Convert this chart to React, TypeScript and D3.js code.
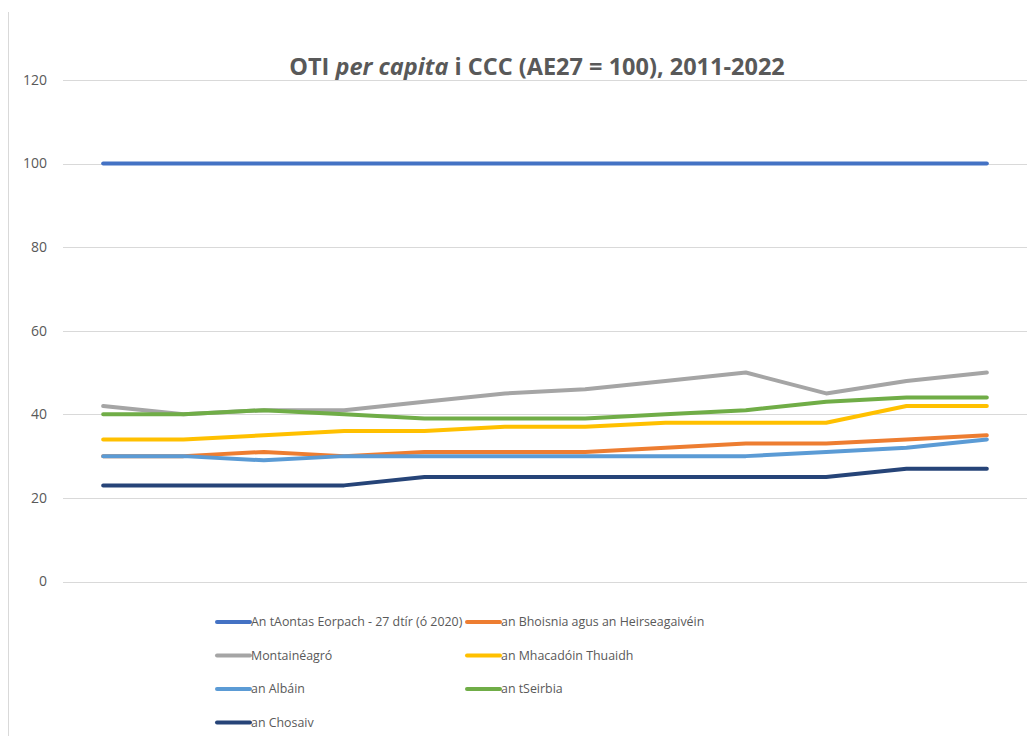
import React from 'react';
import * as d3 from 'd3';

const years = ['2011', '2012', '2013', '2014', '2015', '2016', '2017', '2018', '2019', '2020', '2021', '2022'];

const seriesNames = [
  'An tAontas Eorpach - 27 dtír (ó 2020)',
  'an Bhoisnia agus an Heirseagaivéin',
  'Montainéagró',
  'an Mhacadóin Thuaidh',
  'an Albáin',
  'an tSeirbia',
  'an Chosaiv',
];

const eu27 = [100, 100, 100, 100, 100, 100, 100, 100, 100, 100, 100, 100];
const bosnia = [30, 30, 31, 30, 31, 31, 31, 32, 33, 33, 34, 35];
const montenegro = [42, 40, 41, 41, 43, 45, 46, 48, 50, 45, 48, 50];
const northMacedonia = [34, 34, 35, 36, 36, 37, 37, 38, 38, 38, 42, 42];
const albania = [30, 30, 29, 30, 30, 30, 30, 30, 30, 31, 32, 34];
const serbia = [40, 40, 41, 40, 39, 39, 39, 40, 41, 43, 44, 44];
const kosovo = [23, 23, 23, 23, 25, 25, 25, 25, 25, 25, 27, 27];

const yTicks = [0, 20, 40, 60, 80, 100, 120];

const colors = ['#4472C4', '#ED7D31', '#A5A5A5', '#FFC000', '#5B9BD5', '#70AD47', '#264478'];

const W = 1028;
const H = 738;

const App: React.FC = () => {
  const allValues = [eu27, bosnia, montenegro, northMacedonia, albania, serbia, kosovo];

  const x = d3.scalePoint<string>().domain(years).range([63, 1027]).padding(0.5);
  const y = d3.scaleLinear().domain([0, 120]).range([581.5, 80]);

  const line = d3
    .line<number>()
    .x((_, i) => x(years[i])!)
    .y((d) => y(d));

  const textColor = '#595959';
  const font = "'Open Sans', sans-serif";

  return (
    <svg
      width={W}
      height={H}
      style={{ position: 'absolute', left: 0, top: 0, background: '#fff' }}
    >
      {/* chart frame edge */}
      <line x1={8.5} x2={8.5} y1={12} y2={736} stroke="#d9d9d9" strokeWidth={1} />

      <text
        x={537}
        y={75}
        textAnchor="middle"
        fontFamily={font}
        fontSize={23.5}
        fontWeight="bold"
        fill={textColor}
      >
        OTI <tspan fontStyle="italic">per capita</tspan> i CCC (AE27 = 100), 2011-2022
      </text>

      {yTicks.map((t) => (
        <g key={t}>
          <line x1={63} x2={1027} y1={Math.round(y(t)) + 0.5} y2={Math.round(y(t)) + 0.5} stroke="#d9d9d9" />
          <text
            x={47}
            y={y(t)}
            dy="0.35em"
            textAnchor="end"
            fontFamily={font}
            fontSize={14}
            fill={textColor}
          >
            {t}
          </text>
        </g>
      ))}

      {allValues.map((vals, i) => (
        <path
          key={seriesNames[i]}
          d={line(vals) || ''}
          fill="none"
          stroke={colors[i]}
          strokeWidth={4}
          strokeLinejoin="round"
          strokeLinecap="round"
        />
      ))}

      {seriesNames.map((name, i) => {
        const col = i % 2;
        const row = Math.floor(i / 2);
        const lx = col === 0 ? 217 : 467;
        const ly = 622 + row * 33.5;
        return (
          <g key={name}>
            <line x1={lx} x2={lx + 33} y1={ly} y2={ly} stroke={colors[i]} strokeWidth={4} strokeLinecap="round" />
            <text x={lx + 34} y={ly} dy="0.35em" fontFamily={font} fontSize={12.4} fill={textColor}>
              {name}
            </text>
          </g>
        );
      })}
    </svg>
  );
};

export default App;
